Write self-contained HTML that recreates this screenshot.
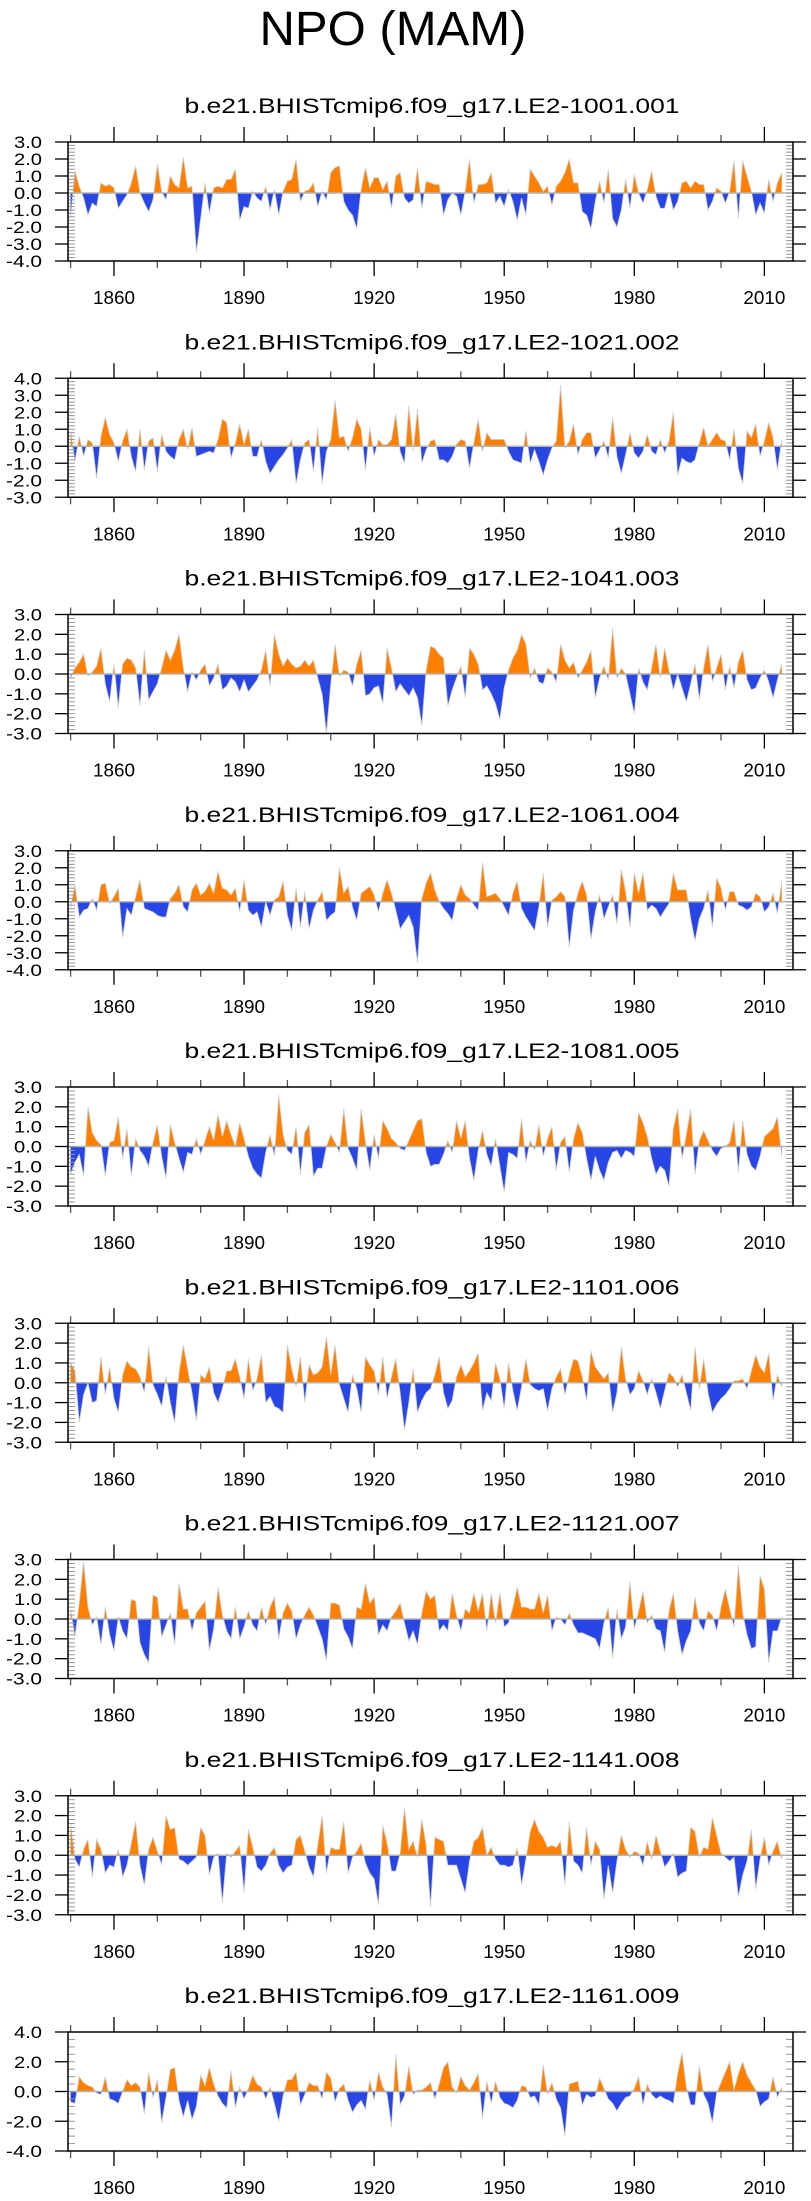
<!DOCTYPE html>
<html><head><meta charset="utf-8">
<style>
html,body{margin:0;padding:0;background:#fff;}
svg{display:block;font-family:"Liberation Sans",Arial,sans-serif;}
</style></head>
<body>
<svg id="chart" width="811" height="2201" viewBox="0 0 811 2201" xmlns="http://www.w3.org/2000/svg">
<text x="393" y="45" font-size="48" text-anchor="middle" textLength="267" lengthAdjust="spacingAndGlyphs">NPO (MAM)</text>
</svg>
<script>
const startYear = 1850;
const panelTitles = ["b.e21.BHISTcmip6.f09_g17.LE2-1001.001","b.e21.BHISTcmip6.f09_g17.LE2-1021.002","b.e21.BHISTcmip6.f09_g17.LE2-1041.003","b.e21.BHISTcmip6.f09_g17.LE2-1061.004","b.e21.BHISTcmip6.f09_g17.LE2-1081.005","b.e21.BHISTcmip6.f09_g17.LE2-1101.006","b.e21.BHISTcmip6.f09_g17.LE2-1121.007","b.e21.BHISTcmip6.f09_g17.LE2-1141.008","b.e21.BHISTcmip6.f09_g17.LE2-1161.009"];
const yMins = [-4,-3,-3,-4,-3,-3,-3,-3,-4];
const yMaxs = [3,4,3,3,3,3,3,3,4];
const yLabelSteps = [1,1,1,1,1,1,1,1,2];
const xTickYears = [1860,1890,1920,1950,1980,2010];
const s1 = [-1.5,1.3,0.4,-0.3,-1.3,-0.6,-0.8,0.6,0.4,0.5,0.3,-0.9,-0.5,-0.1,0.6,1.6,0.0,-0.6,-1.1,-0.4,1.7,0.1,-0.4,1.0,0.5,0.3,2.1,0.3,0.4,-3.5,-1.5,0.6,-1.2,0.3,0.4,0.3,0.8,0.8,1.4,-1.6,-0.8,-0.9,0.1,-0.3,-0.5,0.4,-1.0,0.2,-1.3,0.1,0.7,0.8,2.0,-0.5,0.1,0.2,0.6,-0.8,0.1,-0.4,1.2,1.5,1.6,-0.5,-1.0,-1.3,-2.1,0.2,1.5,0.3,0.9,0.9,0.2,0.7,-0.9,1.0,1.2,-0.3,-0.6,-0.4,1.5,-0.9,0.7,0.6,0.5,0.5,-1.3,-0.4,0.0,-0.2,-1.3,0.1,2.0,-0.6,0.5,0.5,0.6,1.2,-0.6,-0.2,-0.8,0.2,-0.5,-1.6,-0.3,-1.3,1.4,1.0,0.6,0.1,0.4,-0.7,0.4,0.7,1.2,2.0,0.6,0.6,-1.1,-1.3,-2.1,-0.5,0.7,-0.6,1.4,-1.5,-2.0,-1.0,0.8,-0.9,1.1,0.0,-0.6,0.2,1.3,-0.2,-0.9,-0.9,0.1,-1.0,-0.5,0.6,0.7,0.3,0.7,0.5,0.5,-1.0,-0.5,0.3,0.1,-0.6,0.1,1.9,-1.5,1.9,1.0,0.1,-1.3,-0.6,-1.2,0.8,-0.5,0.6,1.2];
const s2 = [0.9,-0.9,0.6,-0.6,0.4,0.2,-1.9,0.6,1.7,0.7,0.2,-0.9,0.3,1.0,-0.6,-1.5,1.0,-1.4,0.3,0.5,-1.5,0.7,-0.3,-0.6,-0.8,0.4,1.0,-0.2,1.1,-0.6,-0.5,-0.4,-0.3,-0.4,0.4,1.6,1.4,-0.7,0.2,1.3,0.1,1.0,-0.6,-0.6,0.4,-0.9,-1.6,-1.2,-0.8,-0.5,-0.1,0.4,-2.2,-0.8,0.2,0.4,-1.5,1.1,-2.2,-0.3,0.4,2.7,0.5,0.6,-0.3,0.5,1.6,1.0,-1.4,1.1,-0.6,0.4,0.1,0.1,0.4,1.9,-0.3,-1.0,2.4,-0.3,2.2,-1.0,-0.2,0.3,0.4,-0.8,-0.8,-1.0,-0.6,0.1,0.4,0.3,-1.3,0.2,1.6,-0.3,0.8,0.4,0.4,0.4,0.4,-0.3,-0.8,-0.9,-1.0,0.9,-1.0,-0.2,-0.9,-1.7,-0.8,-0.1,0.3,3.6,-0.1,0.3,1.3,-0.5,0.4,0.8,0.8,-0.7,-0.2,0.3,-0.7,1.7,-0.6,-1.6,-0.5,0.8,-0.4,-0.7,-0.3,0.7,-0.3,-0.5,0.4,-0.4,0.3,2.0,-1.7,-0.7,-0.9,-1.0,-0.8,0.2,1.1,0.0,0.4,0.8,0.4,0.3,-0.8,1.0,-1.3,-2.2,0.9,0.5,1.3,-0.6,0.3,1.4,0.5,-1.4,0.4];
const s3 = [-0.2,0.3,0.6,1.0,-0.1,0.1,0.4,1.3,-0.5,-1.4,0.5,-1.7,0.5,0.8,0.7,0.3,-1.6,1.2,-1.3,-0.9,-0.5,0.3,1.2,0.7,1.2,2.0,0.3,-0.9,0.1,-0.3,0.2,0.5,-0.6,-0.2,0.5,-0.8,-0.6,-0.2,-0.4,-0.9,-0.3,-0.9,-0.6,-0.3,0.2,1.2,-0.6,2.0,1.0,0.4,0.8,0.5,0.3,0.4,0.7,0.4,0.7,-0.2,-1.0,-3.0,-0.5,1.5,-0.1,0.2,0.1,-0.6,0.5,1.2,-1.1,-1.0,-0.7,-0.6,-1.5,1.3,0.3,-0.9,-0.5,-0.8,-1.1,-0.7,-1.2,-2.6,0.2,1.4,1.3,1.0,0.8,-1.6,-0.8,-0.2,0.4,-1.2,1.3,1.0,0.5,-0.8,-0.6,-1.0,-1.5,-2.3,-0.7,0.2,0.8,1.2,2.0,1.5,-0.2,0.3,-0.4,-0.5,0.3,0.1,-0.4,1.5,0.7,0.3,0.6,-0.2,0.2,0.6,1.2,-1.2,-0.2,0.4,-0.3,2.3,-0.2,0.3,0.0,-1.0,-2.0,0.3,-0.4,-0.8,0.3,1.5,-0.2,1.3,0.2,-0.8,0.0,-0.7,-1.4,-0.5,0.5,-1.3,0.3,1.5,-0.4,0.3,1.0,-0.8,0.4,-0.7,0.6,1.2,-0.3,-0.8,-0.7,-0.2,0.2,-0.4,-1.2,-0.3,0.5];
const s4 = [-0.3,1.0,-0.9,-0.5,-0.4,0.2,-0.5,1.0,1.1,-0.1,0.3,0.8,-2.1,-0.4,-0.8,0.3,1.3,-0.4,-0.5,-0.6,-0.8,-0.9,-0.9,0.2,0.5,1.0,-0.3,-0.6,0.7,1.1,0.4,0.6,1.1,0.5,1.8,0.8,0.7,0.4,0.8,-0.6,1.3,-0.5,-0.8,-0.6,-1.5,0.0,-0.8,0.1,0.3,1.2,-0.8,-1.7,0.8,-1.5,0.6,-1.6,-0.5,0.1,0.6,-1.1,-0.8,-0.6,2.0,0.5,0.9,-0.3,-1.1,0.5,0.7,0.9,0.4,-0.6,0.5,1.3,0.5,-0.5,-1.6,-1.2,-0.8,-1.5,-3.6,0.2,1.1,1.7,0.7,0.0,-0.4,-0.7,-1.1,0.2,1.0,0.4,0.2,-0.2,-0.5,2.3,0.3,0.4,0.5,0.2,-0.3,-0.8,0.5,1.2,-0.4,-0.9,-1.3,-1.7,-0.3,1.7,-1.5,0.1,0.3,0.6,0.3,-2.7,-0.5,0.5,1.2,0.4,-2.2,-0.6,0.4,-1.0,-0.3,0.4,-1.3,1.9,0.6,-1.5,1.7,0.5,1.7,-0.5,-0.2,-0.4,-0.9,-0.5,-0.1,1.7,0.7,0.7,0.7,-1.0,-2.3,-1.0,-0.4,0.7,-1.5,1.4,0.8,-0.5,0.6,0.6,-0.2,-0.3,-0.5,-0.3,0.5,0.3,-0.6,-0.3,0.5,-0.7,1.2];
const s5 = [-1.4,-0.8,-0.4,-1.5,2.0,0.7,0.3,0.1,-1.5,0.2,0.3,1.5,-0.6,0.9,-1.5,0.4,-0.2,-0.5,-1.0,0.2,1.1,-0.5,-1.6,1.1,0.2,-0.6,-1.3,-0.3,-0.4,0.4,-0.4,0.3,1.0,0.3,1.6,0.5,1.3,0.6,0.0,1.2,0.4,-0.5,-1.1,-1.4,-1.6,-0.3,0.6,-0.5,2.6,0.6,-0.2,-0.4,1.0,-1.4,0.7,1.1,-1.5,-1.1,-1.1,0.0,0.6,0.2,-0.3,1.9,-0.1,-0.6,-1.2,1.9,0.2,-1.2,0.6,-0.6,1.3,0.9,0.4,0.2,-0.1,-0.2,0.3,0.8,1.3,1.4,-0.3,-1.0,-0.9,-0.9,-0.4,0.3,-0.3,1.3,0.4,1.3,-0.6,-1.7,-0.2,0.8,-0.4,-1.0,0.4,-1.0,-2.3,-0.3,-0.4,-0.6,1.4,-0.8,0.3,-0.2,1.1,-0.5,0.4,1.0,-1.2,0.2,0.5,-1.3,0.4,1.2,0.7,-0.6,-1.7,-0.5,-1.2,-1.7,-0.8,-0.3,-0.2,-0.6,-0.2,-0.3,-0.5,1.7,1.2,0.5,-0.6,-1.4,-1.0,-1.2,-2.0,0.9,1.9,-0.6,0.6,1.9,-1.4,0.3,0.8,0.3,-0.2,-0.5,-0.1,0.0,0.2,1.3,-1.3,1.3,-0.4,-1.0,-1.2,-0.5,0.5,0.7,0.9,1.5,-0.5];
const s6 = [1.0,0.6,-2.0,-0.6,0.0,-1.0,-0.9,1.3,-0.6,0.8,-0.8,-1.5,0.4,1.1,0.8,0.7,0.3,-0.5,1.8,-0.1,-0.6,-1.2,0.3,-1.0,-2.0,0.5,1.9,0.7,-0.5,-1.9,0.4,0.2,0.8,-0.5,-1.0,-0.3,0.6,0.6,1.2,0.3,-0.8,1.2,-0.4,0.2,1.4,-1.0,-0.7,-1.2,-1.3,-1.5,1.9,0.7,-0.2,1.3,-1.0,0.9,0.4,0.5,0.8,2.3,0.4,1.9,-0.1,-0.8,-1.5,0.4,-0.3,-1.5,1.3,0.9,0.6,-0.6,1.3,-0.8,0.3,1.2,-0.5,-2.4,-1.0,0.7,-1.5,-0.9,-0.5,-0.3,0.4,1.3,-0.5,-1.3,-0.9,0.3,0.9,0.3,0.6,1.0,1.5,-1.4,-0.5,-0.9,1.0,0.2,-1.3,1.0,-0.4,-1.4,-0.2,1.2,-0.1,-0.3,-0.4,-0.3,-1.4,-0.3,0.3,0.7,-0.6,0.4,1.2,1.1,0.3,-0.9,1.6,0.8,0.5,0.2,0.5,-1.5,-0.5,1.8,0.2,-0.6,-0.3,0.6,0.1,-0.6,0.2,-0.5,-1.3,-0.4,0.5,0.3,-0.2,0.4,-0.5,-1.4,1.8,-0.3,1.2,-0.5,-1.5,-1.1,-0.8,-0.6,-0.3,0.1,0.1,0.2,-0.3,0.6,1.4,0.8,0.5,1.5,-0.9,0.4,-0.2];
const s7 = [0.5,-0.9,0.8,2.9,0.6,-0.3,0.1,-1.3,0.6,-0.8,-1.6,0.1,-0.6,-1.0,1.0,0.9,-1.2,-1.8,-2.2,1.2,1.1,-0.9,-0.3,0.3,-1.3,1.8,0.5,0.5,-0.6,0.3,0.6,0.9,-1.6,-0.5,1.6,0.2,-0.6,-1.0,0.6,-1.0,-0.4,0.4,-0.3,-0.6,0.6,-0.3,0.6,1.1,-1.0,0.3,0.8,0.4,-1.0,-0.3,0.2,0.6,0.2,-0.4,-1.0,-2.1,0.8,0.8,0.7,-0.5,-0.9,-1.5,0.6,0.5,1.8,0.8,1.1,-0.8,-0.3,-0.6,0.1,0.4,0.8,-0.2,-1.1,-0.6,-1.3,0.3,1.4,1.0,1.2,-0.6,-0.3,-0.6,1.3,0.2,-0.6,0.5,0.3,1.3,0.4,1.3,-0.6,1.3,-0.2,1.3,-0.4,-0.2,0.6,1.6,0.6,0.6,0.5,0.5,1.3,0.3,1.2,-0.6,0.1,0.0,-0.3,0.3,-0.3,-0.7,-0.7,-0.8,-0.9,-1.0,-1.5,-0.2,0.6,-2.0,0.5,-1.0,-0.4,1.9,-0.5,0.4,1.4,-0.2,0.2,-0.5,-0.6,-1.7,0.4,1.3,-0.6,-1.8,-1.1,-0.6,1.1,-0.2,-0.6,0.4,0.2,-0.6,0.6,1.5,0.5,-0.4,2.7,0.3,-0.8,-1.5,-1.4,2.2,1.5,-2.2,-0.6,-0.6,0.1];
const s8 = [1.6,-0.2,-0.6,0.3,0.8,-1.1,0.8,0.3,-0.9,-0.5,-0.6,0.3,-1.1,-0.5,0.6,1.7,-0.5,-1.5,0.3,0.9,0.2,-0.5,2.0,1.3,1.4,-0.2,-0.3,-0.5,-0.3,-0.1,1.4,1.0,-1.0,-0.1,0.1,-2.4,0.1,-0.1,0.2,0.5,-1.9,1.3,0.4,-0.6,-0.8,-0.5,0.1,0.4,-0.5,-0.9,-0.6,-0.5,0.8,1.0,0.2,-0.6,-1.1,0.5,2.0,-0.9,0.4,0.3,0.3,1.7,-0.9,-0.1,0.2,0.6,-0.4,-0.9,-1.2,-2.5,1.5,0.6,-0.8,-0.8,0.1,2.4,0.3,0.7,-0.1,1.8,0.5,-2.6,0.9,0.8,0.7,-0.5,-0.5,-0.5,-1.2,-1.9,-0.3,0.7,0.9,1.4,0.0,0.4,-0.2,-0.5,-0.5,-0.6,-0.5,0.4,-1.5,-0.2,1.2,1.8,1.2,0.9,0.4,0.5,0.4,0.7,-1.5,1.7,-0.3,-0.5,-0.9,1.4,-0.5,0.7,0.3,-2.2,-0.5,-1.9,-0.3,1.0,0.3,-0.1,0.2,0.1,-0.5,0.7,-0.2,1.0,0.2,-0.6,-0.3,0.1,-1.1,-0.9,-0.8,1.4,1.2,-0.1,0.4,0.3,1.9,1.0,0.1,-0.1,-0.3,-0.1,-2.1,-1.0,-0.3,1.3,-1.7,-0.2,0.9,-0.5,0.2,0.7,-0.2];
const s9 = [-0.7,-0.8,1.0,0.6,0.4,0.3,-0.1,-0.2,1.0,-0.5,-0.6,-0.8,0.0,0.8,0.4,0.6,0.3,-1.5,1.3,-0.4,0.8,-2.1,-0.4,1.5,1.6,-0.6,-1.7,-0.6,-1.9,-1.0,1.1,0.4,1.6,0.5,-0.3,-0.8,-1.1,1.4,-1.1,0.3,-0.5,0.2,1.1,0.5,0.3,-0.5,0.3,-0.8,-2.0,-0.3,0.8,0.8,1.3,-0.9,-0.2,0.6,0.4,0.4,-0.5,1.3,0.9,-0.7,0.2,0.5,-0.6,-1.4,-0.9,-0.6,-1.2,0.8,-0.6,1.3,0.3,-0.2,-2.4,2.5,-0.9,-0.3,1.7,-0.2,0.1,0.1,0.3,0.6,-0.5,0.5,1.6,2.0,0.3,-0.1,1.0,0.4,0.1,0.6,1.2,-1.8,0.7,-0.8,0.7,-0.4,-0.8,-0.9,-1.1,-0.6,0.4,0.3,-0.4,-0.3,-0.9,1.8,-0.2,0.6,-0.5,-1.1,-3.0,0.5,0.6,0.7,-0.9,-0.2,-0.4,-0.3,0.9,0.2,-0.5,-0.8,-1.3,-0.8,-0.4,-0.3,0.2,1.0,-0.9,0.5,-0.2,-0.5,-0.3,-0.5,-0.6,-0.8,1.2,2.6,0.3,-0.9,-0.9,1.7,-0.2,-0.8,-2.1,-0.1,0.6,1.3,2.0,0.1,1.2,2.0,1.1,0.6,0.1,-1.0,-0.7,-0.5,1.0,-0.4,0.3];
const allSeries = [s1,s2,s3,s4,s5,s6,s7,s8,s9];

const NS = "http://www.w3.org/2000/svg";
const svg = document.getElementById('chart');
const L = 68, R = 793, H = 119, TOP0 = 142, GAP = 236.25;
const X0 = 1849.4, X1 = 2016.6;
function mk(tag, attrs, parent){const e=document.createElementNS(NS,tag);for(const k in attrs)e.setAttribute(k,attrs[k]);(parent||svg).appendChild(e);return e;}

allSeries.forEach((data, p) => {
  const top = TOP0 + p*GAP, bot = top + H;
  const ymin = yMins[p], ymax = yMaxs[p];
  const xs = yr => L + (yr - X0)/(X1 - X0)*(R - L);
  const ys = v => bot - (v - ymin)/(ymax - ymin)*H;
  const g = mk('g', {});
  
  
  const t = mk('text', {x: 432, y: top - 29, 'font-size': 21, 'text-anchor': 'middle', textLength: 495, lengthAdjust: 'spacingAndGlyphs'}, g);
  t.textContent = panelTitles[p];
  
  
  // build points with zero crossings
  const pts = [];
  for (let i = 0; i < data.length; i++) {
    const yr = startYear + i, v = data[i];
    if (i > 0) {
      const pv = data[i-1];
      if ((pv > 0 && v < 0) || (pv < 0 && v > 0)) {
        const f = pv/(pv - v);
        pts.push([yr - 1 + f, 0]);
      }
    }
    pts.push([yr, v]);
  }
  const z = ys(0);
  const first = xs(pts[0][0]), last = xs(pts[pts.length-1][0]);
  let dp = 'M' + first + ',' + z, dn = dp, dl = '';
  pts.forEach((q, k) => {
    const x = xs(q[0]).toFixed(2);
    dp += ' L' + x + ',' + ys(Math.max(q[1],0)).toFixed(2);
    dn += ' L' + x + ',' + ys(Math.min(q[1],0)).toFixed(2);
    dl += (k ? ' L' : 'M') + x + ',' + ys(q[1]).toFixed(2);
  });
  dp += ' L' + last + ',' + z + ' Z';
  dn += ' L' + last + ',' + z + ' Z';
  const pos = mk('path', {d: dp, fill: '#ff8000', stroke: 'none'}, g);
  
  
  const neg = mk('path', {d: dn, fill: '#2846e6', stroke: 'none'}, g);
  
  
  const ln = mk('path', {d: dl, fill: 'none', stroke: '#d0d0d0', 'stroke-width': 0.8}, g);
  
  
  const zl = mk('line', {x1: L, x2: R, y1: z, y2: z, stroke: '#b4b4b4', 'stroke-width': 1.5}, g);
  
  
  // y minor ticks
  const minorStep = yLabelSteps[p] === 2 ? 0.5 : 0.2;
  for (let v = ymin; v <= ymax + 1e-6; v += minorStep) {
    const y = ys(v);
    mk('line', {x1: L, x2: L + 7, y1: y, y2: y, stroke: '#999', 'stroke-width': 1}, g);
    mk('line', {x1: R - 7, x2: R, y1: y, y2: y, stroke: '#999', 'stroke-width': 1}, g);
  }
  // y major ticks and labels
  for (let v = ymin; v <= ymax + 1e-6; v += yLabelSteps[p]) {
    const y = ys(v);
    mk('line', {x1: L - 13, x2: L, y1: y, y2: y, stroke: '#000', 'stroke-width': 1.3}, g);
    mk('line', {x1: R, x2: R + 13, y1: y, y2: y, stroke: '#000', 'stroke-width': 1.3}, g);
    const lab = v.toFixed(1);
    const tl = mk('text', {x: 42, y: y + 6, 'font-size': 17, 'text-anchor': 'end', textLength: lab.length === 4 ? 36 : 28, lengthAdjust: 'spacingAndGlyphs'}, g);
    tl.textContent = lab;
    
    
  }
  // x ticks
  for (let yr = 1850; yr <= 2010; yr += 10) {
    const x = xs(yr), major = xTickYears.indexOf(yr) >= 0;
    const len = major ? 15 : 7;
    mk('line', {x1: x, x2: x, y1: top - len, y2: top, stroke: major ? '#000' : '#555', 'stroke-width': 1.3}, g);
    mk('line', {x1: x, x2: x, y1: bot, y2: bot + len, stroke: major ? '#000' : '#555', 'stroke-width': 1.3}, g);
  }
  xTickYears.forEach(yr => {
    const tx = mk('text', {x: xs(yr), y: bot + 43, 'font-size': 18, 'text-anchor': 'middle', textLength: 42, lengthAdjust: 'spacingAndGlyphs'}, g);
    tx.textContent = yr;
    
    
  });
  const frame = mk('rect', {x: L, y: top, width: R - L, height: H, fill: 'none', stroke: '#000', 'stroke-width': 1.5}, g);
  
  
});
</script>
</body></html>
